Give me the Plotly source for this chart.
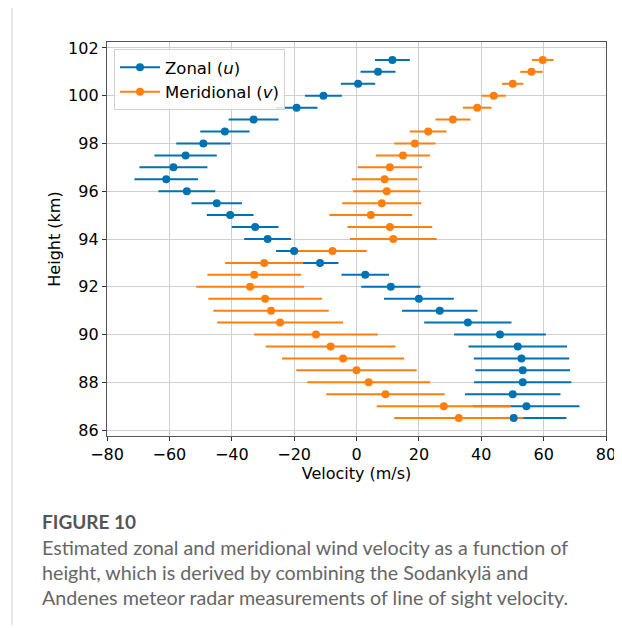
import plotly.graph_objects as go

# ---- data ----
heights = [101.5, 101.0, 100.5, 100.0, 99.5, 99.0, 98.5, 98.0, 97.5, 97.0, 96.5,
           96.0, 95.5, 95.0, 94.5, 94.0, 93.5, 93.0, 92.5, 92.0, 91.5, 91.0,
           90.5, 90.0, 89.5, 89.0, 88.5, 88.0, 87.5, 87.0, 86.5]

zonal_u = [11.5, 6.9, 0.5, -10.6, -19.2, -33.0, -42.2, -49.1, -54.8, -58.7, -61.0,
           -54.4, -44.8, -40.5, -32.5, -28.5, -20.0, -11.7, 2.8, 11.0, 20.0, 26.7,
           35.7, 46.0, 51.7, 52.9, 53.3, 53.3, 50.1, 54.5, 50.4]
zonal_err = [5.6, 5.6, 5.5, 5.9, 6.7, 8.0, 7.9, 8.7, 10.0, 10.9, 10.2,
             9.1, 8.1, 7.5, 7.5, 7.5, 5.8, 5.9, 7.6, 9.5, 11.2, 12.1,
             14.0, 14.7, 15.8, 15.3, 15.2, 15.6, 15.3, 17.0, 16.9]

merid_v = [59.7, 56.1, 50.1, 44.0, 38.7, 30.9, 23.0, 18.7, 14.9, 10.7, 9.0,
           9.7, 8.1, 4.6, 10.7, 11.8, -7.7, -29.6, -32.8, -34.1, -29.3, -27.4,
           -24.5, -13.0, -8.3, -4.3, 0.0, 3.9, 9.3, 28.0, 32.8]
merid_err = [3.5, 3.6, 3.4, 3.9, 4.6, 5.6, 5.9, 6.6, 8.7, 10.3, 10.5,
             10.8, 12.7, 13.3, 13.6, 13.9, 11.0, 12.5, 15.0, 17.3, 18.2, 18.5,
             20.2, 19.8, 20.8, 19.6, 19.3, 19.7, 19.0, 21.5, 20.7]

x_ticks = [-80, -60, -40, -20, 0, 20, 40, 60, 80]
y_ticks = [86, 88, 90, 92, 94, 96, 98, 100, 102]

series_names = ["Zonal (<i>u</i>)", "Meridional (<i>v</i>)"]
colors = ["#0072B2", "#FF7F0E"]

caption_title = "FIGURE 10"
caption_lines = [
    "Estimated zonal and meridional wind velocity as a function of",
    "height, which is derived by combining the Sodankylä and",
    "Andenes meteor radar measurements of line of sight velocity.",
]

# ---- layout geometry (page body has an 8px margin) ----
OFF = 8
W, H = 622 - OFF, 628 - OFF
L, R, T, B = 107 - OFF, 606 - OFF, 42 - OFF, 436 - OFF


def px(x):
    return (x - OFF - L) / (R - L)


def py(y):
    return (B - (y - OFF)) / (B - T)


fig = go.Figure()

series = [(zonal_u, zonal_err), (merid_v, merid_err)]

# error bars first (all below markers, like matplotlib)
for (vals, errs), c in zip(series, colors):
    fig.add_trace(go.Scatter(
        x=vals, y=heights, mode="markers",
        marker=dict(size=1, color="rgba(0,0,0,0)"),
        error_x=dict(type="data", array=errs, symmetric=True, width=0,
                     thickness=2, color=c),
        showlegend=False, hoverinfo="skip"))

# markers on top
for (vals, errs), c in zip(series, colors):
    fig.add_trace(go.Scatter(
        x=vals, y=heights, mode="markers",
        marker=dict(size=8, color=c),
        showlegend=False))

# legend entries
for name, c in zip(series_names, colors):
    fig.add_trace(go.Scatter(
        x=[None], y=[None], mode="lines+markers", name=name,
        line=dict(color=c, width=2), marker=dict(size=8, color=c)))

font_main = "DejaVu Sans"

fig.update_layout(
    width=W, height=H,
    margin=dict(l=L, r=W - R, t=T, b=H - B, pad=0, autoexpand=False),
    paper_bgcolor="white", plot_bgcolor="white",
    font=dict(family=font_main, size=16, color="black"),
    showlegend=True,
    legend=dict(x=px(114), y=py(49), xanchor="left", yanchor="top",
                bgcolor="rgba(255,255,255,0.85)", bordercolor="#d0d0d0",
                borderwidth=1, font=dict(size=16.5, family=font_main),
                itemwidth=40, tracegroupgap=2),
    xaxis=dict(range=[-80, 80], tickvals=x_ticks, automargin=False,
               ticktext=[("\u2212" + str(-t)) if t < 0 else str(t) for t in x_ticks],
               showgrid=True, gridcolor="#cfcfcf", gridwidth=1,
               zeroline=False, showline=True, mirror=True,
               linecolor="#555555", linewidth=1.3,
               ticks="outside", ticklen=4, tickcolor="#333333",
               title=dict(text="Velocity (m/s)", standoff=4,
                          font=dict(size=16))),
    yaxis=dict(range=[85.75, 102.25], tickvals=y_ticks, automargin=False,
               showgrid=True, gridcolor="#cfcfcf", gridwidth=1,
               zeroline=False, showline=True, mirror=True,
               linecolor="#555555", linewidth=1.3,
               ticks="outside", ticklen=4, tickcolor="#333333",
               title=dict(text="Height (km)", standoff=3,
                          font=dict(size=16))),
)

# caption
fig.add_annotation(x=px(40), y=py(521), xref="paper", yref="paper",
                   text="<b>" + caption_title + "</b>", showarrow=False,
                   xanchor="left", yanchor="middle",
                   font=dict(family="Lato", size=19, color="#555555"))
for i, line in enumerate(caption_lines):
    fig.add_annotation(x=px(40), y=py(547 + 25 * i), xref="paper", yref="paper",
                       text=line, showarrow=False,
                       xanchor="left", yanchor="middle",
                       font=dict(family="Lato", size=19.7, color="#666666"))

# page border line on the left
fig.add_shape(type="line", xref="paper", yref="paper",
              x0=px(12), x1=px(12), y0=py(8), y1=py(625),
              line=dict(color="#cccccc", width=1))

fig.write_html("out.html")
